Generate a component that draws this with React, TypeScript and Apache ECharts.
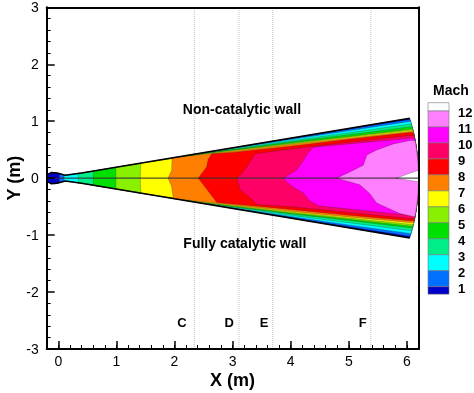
import React, { useEffect, useRef } from 'react';
import * as echarts from 'echarts';

const FONT = '"Liberation Sans", Arial, sans-serif';

// Mach contour levels and band colours (index 0: M<1 ... index 12: M>12)
const machLevels = [1, 2, 3, 4, 5, 6, 7, 8, 9, 10, 11, 12];
const bandColors = ['#0000c8', '#0070ff', '#00ffff', '#00ee88', '#00e000', '#88f000', '#ffff00', '#ff8000', '#ff0000', '#ff0066', '#ff00ff', '#ff80ff', '#ffffff'];

// body outline: wall half-height vs x, blunt end arc apex
const wallX = [-0.25, -0.12, -0.02, 0.12, 0.4, 6.05];
const wallH = [0.03, 0.1, 0.09, 0.05, 0.09, 1.05];
const arcApexX = 6.2;

// iso-Mach fronts in the core: [x, fraction of local half-height]
const frontsUpper = [
  [[0.02, 0], [0.02, 1]],
  [[0.1, 0], [0.1, 1]],
  [[0.34, 0], [0.35, 1]],
  [[0.6, 0], [0.61, 1]],
  [[0.99, 0], [0.99, 1]],
  [[1.41, 0], [1.42, 1]],
  [[1.89, 0], [1.95, 0.38], [1.96, 1]],
  [[2.41, 0], [2.47, 0.19], [2.55, 0.42], [2.58, 0.71], [2.64, 0.91]],
  [[3.07, 0], [3.18, 0.19], [3.3, 0.49], [3.39, 0.72]],
  [[3.87, 0], [4.1, 0.19], [4.22, 0.42], [4.28, 0.56], [4.39, 0.71]],
  [[4.79, 0], [5.02, 0.125], [5.25, 0.25], [5.31, 0.44], [5.48, 0.52], [5.77, 0.6], [6.05, 0.63]],
  [[5.82, 0], [6.0, 0.065], [6.19, 0.13]],
];
const frontsLower = [
  [[0.02, 0], [0.02, 1]],
  [[0.1, 0], [0.1, 1]],
  [[0.34, 0], [0.35, 1]],
  [[0.6, 0], [0.61, 1]],
  [[0.99, 0], [0.99, 1]],
  [[1.41, 0], [1.42, 1]],
  [[1.89, 0], [1.95, 0.41], [1.98, 1]],
  [[2.41, 0], [2.52, 0.33], [2.64, 0.66], [2.73, 0.88]],
  [[3.07, 0], [3.13, 0.37], [3.3, 0.59], [3.41, 0.77]],
  [[3.87, 0], [4.02, 0.2], [4.22, 0.36], [4.33, 0.53], [4.5, 0.63]],
  [[4.79, 0], [5.19, 0.13], [5.36, 0.29], [5.48, 0.46], [5.88, 0.61], [6.11, 0.64]],
  [[5.82, 0], [6.0, 0.03], [6.2, 0.06]],
];

// boundary-layer iso-Mach lines: [x, distance from wall]
const blUpper = [
  [[0.02, 0], [3, 0.005], [4, 0.008], [5, 0.012], [6.05, 0.018]],
  [[0.1, 0], [3, 0.01], [4, 0.025], [5, 0.04], [6.05, 0.055]],
  [[0.35, 0], [2.5, 0.01], [3, 0.02], [4, 0.045], [5, 0.075], [6.05, 0.1]],
  [[0.61, 0], [2.5, 0.015], [3, 0.03], [4, 0.065], [5, 0.11], [6.05, 0.15]],
  [[0.99, 0], [2.5, 0.02], [3, 0.04], [4, 0.085], [5, 0.14], [6.05, 0.19]],
  [[1.42, 0], [2.5, 0.025], [3, 0.05], [4, 0.1], [5, 0.155], [6.05, 0.21]],
  [[1.96, 0], [2.5, 0.03], [3, 0.06], [4, 0.11], [5, 0.17], [6.05, 0.23]],
  [[2.64, 0.043], [3, 0.08], [4, 0.14], [5, 0.19], [6.05, 0.25]],
  [[3.39, 0.17], [4, 0.19], [5, 0.24], [6.05, 0.3]],
  [[4.39, 0.227], [5, 0.27], [6.05, 0.35]],
  [],
  [],
];
const blLower = [
  [[0.02, 0], [3, 0.005], [4, 0.01], [5, 0.02], [6.05, 0.03]],
  [[0.1, 0], [3, 0.01], [4, 0.03], [5, 0.05], [6.05, 0.08]],
  [[0.35, 0], [2.5, 0.01], [3, 0.02], [4, 0.05], [5, 0.09], [6.05, 0.13]],
  [[0.61, 0], [2.5, 0.015], [3, 0.03], [4, 0.075], [5, 0.13], [6.05, 0.18]],
  [[0.99, 0], [2.5, 0.02], [3, 0.04], [4, 0.09], [5, 0.15], [6.05, 0.21]],
  [[1.42, 0], [2.5, 0.025], [3, 0.05], [4, 0.105], [5, 0.17], [6.05, 0.24]],
  [[1.98, 0], [2.5, 0.03], [3, 0.06], [4, 0.12], [5, 0.19], [6.05, 0.27]],
  [[2.73, 0.06], [3, 0.08], [4, 0.15], [5, 0.22], [6.05, 0.3]],
  [[3.41, 0.14], [4, 0.2], [5, 0.27], [6.05, 0.34]],
  [[4.5, 0.3], [5, 0.33], [6.05, 0.4]],
  [],
  [],
];

// measurement stations
const stationX = [2.34, 3.11, 3.69, 5.38];
const stationNames = ['C', 'D', 'E', 'F'];
const stationLabelX = [2.13, 2.94, 3.54, 5.24];
const stationLabelY = -2.54;

const wallLabels = ['Non-catalytic wall', 'Fully catalytic wall'];
const wallLabelX = [3.16, 3.21];
const wallLabelY = [1.21, -1.14];

function hAt(x: number): number {
  if (x <= wallX[0]) return wallH[0];
  const n = wallX.length;
  if (x >= wallX[n - 1]) return wallH[n - 1];
  for (let i = 1; i < n; i++) {
    if (x <= wallX[i]) {
      const t = (x - wallX[i - 1]) / (wallX[i] - wallX[i - 1]);
      return wallH[i - 1] + t * (wallH[i] - wallH[i - 1]);
    }
  }
  return wallH[n - 1];
}
const xe = wallX[wallX.length - 1];
const he = wallH[wallH.length - 1];
const arcC = (arcApexX * arcApexX - xe * xe - he * he) / (2 * (arcApexX - xe));
const arcR = arcApexX - arcC;
function xArc(y: number) {
  return arcC + Math.sqrt(Math.max(0, arcR * arcR - y * y));
}

function levelPolygon(front: number[][], bl: number[][], s: number) {
  const pts: number[][] = [];
  front.forEach(([x, eta]) => pts.push([x, s * eta * hAt(x)]));
  for (let i = 0; i < bl.length; i++) {
    const [x, d] = bl[i];
    if (i > 0) {
      const [xp, dp] = bl[i - 1];
      wallX.forEach((wx) => {
        if (wx > xp && wx < x) {
          const t = (wx - xp) / (x - xp);
          pts.push([wx, s * (hAt(wx) - (dp + t * (d - dp)))]);
        }
      });
    }
    pts.push([x, s * (hAt(x) - d)]);
  }
  const yEnd = Math.abs(pts[pts.length - 1][1]);
  const N = 16;
  for (let i = 0; i <= N; i++) {
    const y = yEnd * (1 - i / N);
    pts.push([xArc(y), s * y]);
  }
  return pts;
}

function buildShapes() {
  const shapes: any[] = [];
  const body: number[][] = [];
  wallX.forEach((x, i) => body.push([x, wallH[i]]));
  const N = 40;
  for (let i = 1; i < N; i++) {
    const y = he * (1 - (2 * i) / N);
    body.push([xArc(y), y]);
  }
  for (let i = wallX.length - 1; i >= 0; i--) body.push([wallX[i], -wallH[i]]);
  shapes.push({ kind: 'polygon', pts: body, fill: bandColors[0] });
  for (let k = 0; k < machLevels.length; k++) {
    shapes.push({ kind: 'polygon', pts: levelPolygon(frontsUpper[k], blUpper[k], 1), fill: bandColors[k + 1] });
    shapes.push({ kind: 'polygon', pts: levelPolygon(frontsLower[k], blLower[k], -1), fill: bandColors[k + 1] });
  }
  shapes.push({ kind: 'line', pts: [[wallX[0], 0], [arcApexX, 0]], stroke: '#333', lw: 0.8 });
  shapes.push({ kind: 'line', pts: wallX.map((x, i) => [x, wallH[i]]), stroke: '#000', lw: 1.5 });
  shapes.push({ kind: 'line', pts: wallX.map((x, i) => [x, -wallH[i]]), stroke: '#000', lw: 1.5 });
  return shapes;
}

export default function App() {
  const ref = useRef<HTMLDivElement>(null);
  useEffect(() => {
    if (!ref.current) return;
    const chart = echarts.init(ref.current, null, { renderer: 'svg' });
    const shapes = buildShapes();

    const gridLeft = 46.7, gridTop = 7.3, gridRight = 418.5, gridBottom = 349;

    const legendBoxX = 428, legendBoxW = 21, firstB = 111, step = 15.97;
    const graphic: any[] = [];
    graphic.push({ type: 'text', x: 433, y: 90, style: { text: 'Mach', font: `bold 14px ${FONT}`, fill: '#000', verticalAlign: 'middle', align: 'left' } });
    for (let k = 12; k >= 0; k--) {
      let y0: number, y1: number;
      if (k === 12) { y0 = firstB - 8.3; y1 = firstB; }
      else if (k === 0) { y0 = firstB + 11 * step; y1 = y0 + 7.5; }
      else { y0 = firstB + (11 - k) * step; y1 = y0 + step; }
      graphic.push({ type: 'rect', shape: { x: legendBoxX, y: y0, width: legendBoxW, height: y1 - y0 }, style: { fill: bandColors[k], stroke: '#777', lineWidth: 0.6 } });
    }
    machLevels.forEach((lv, idx) => {
      const i = 11 - idx;
      graphic.push({ type: 'text', x: 458, y: firstB + i * step + 1.5, style: { text: String(lv), font: `bold 13px ${FONT}`, fill: '#000', verticalAlign: 'middle', align: 'left' } });
    });

    const annText = [...wallLabels, ...stationNames];
    const annX = [...wallLabelX, ...stationLabelX];
    const annY = [...wallLabelY, ...stationNames.map(() => stationLabelY)];
    const annSize = [14, 14, 13, 13, 13, 13];

    const option: any = {
      animation: false,
      grid: { left: gridLeft, top: gridTop, width: gridRight - gridLeft, height: gridBottom - gridTop, containLabel: false, outerBoundsMode: 'none' },
      xAxis: [
        {
          type: 'value', min: -0.2, max: 6.2, splitNumber: 6, position: 'bottom', z: 10,
          axisLine: { show: true, onZero: false, lineStyle: { color: '#000', width: 2 } },
          axisTick: { show: true, inside: true, length: 8, lineStyle: { color: '#000', width: 1.5 } },
          axisLabel: { color: '#000', fontSize: 14, fontFamily: FONT, margin: 5, showMinLabel: false, showMaxLabel: false,
            formatter: (v: number) => (Math.abs(v - Math.round(v)) < 1e-6 ? String(Math.round(v) === 0 ? 0 : Math.round(v)) : '') },
          splitLine: { show: false },
          name: 'X (m)', nameLocation: 'middle', nameGap: 22, nameMoveOverlap: false,
          nameTextStyle: { fontSize: 18, fontWeight: 'bold', color: '#000', fontFamily: FONT },
        },
        {
          type: 'value', min: -0.2, max: 6.2, interval: 0.2, position: 'bottom', z: 10,
          axisLine: { show: false, onZero: false }, axisTick: { show: true, inside: true, length: 4, lineStyle: { color: '#000', width: 1 } },
          axisLabel: { show: false }, splitLine: { show: false },
        },
        {
          type: 'value', min: -0.2, max: 6.2, position: 'top', z: 10,
          axisLine: { show: true, onZero: false, lineStyle: { color: '#000', width: 2 } }, axisTick: { show: false },
          axisLabel: { show: false }, splitLine: { show: false },
        },
      ],
      yAxis: [
        {
          type: 'value', min: -3, max: 3, interval: 1, position: 'left', z: 10,
          axisLine: { show: true, onZero: false, lineStyle: { color: '#000', width: 2 } },
          axisTick: { show: true, inside: true, length: 8, lineStyle: { color: '#000', width: 1.5 } },
          minorTick: { show: true, splitNumber: 5, length: 4, lineStyle: { color: '#000', width: 1 } },
          axisLabel: { color: '#000', fontSize: 14, fontFamily: FONT, margin: 8 },
          splitLine: { show: false },
          name: 'Y (m)', nameLocation: 'middle', nameGap: 24, nameMoveOverlap: false,
          nameTextStyle: { fontSize: 18, fontWeight: 'bold', color: '#000', fontFamily: FONT },
        },
        {
          type: 'value', min: -3, max: 3, position: 'right', z: 10,
          axisLine: { show: true, onZero: false, lineStyle: { color: '#000', width: 2 } }, axisTick: { show: false },
          axisLabel: { show: false }, splitLine: { show: false },
        },
      ],
      graphic,
      series: [
        ...stationX.map((x) => ({
          type: 'line', xAxisIndex: 0, yAxisIndex: 0, z: 1, silent: true, symbol: 'none',
          data: [[x, -3], [x, 3]],
          lineStyle: { color: '#c0c0c0', width: 1, type: 'dotted' },
        })),
        {
          type: 'custom', xAxisIndex: 0, yAxisIndex: 0, z: 2, clip: true, silent: true,
          encode: { x: 0, y: 1 },
          data: shapes.map((s, i) => [s.pts[0][0], s.pts[0][1], i]),
          renderItem: (params: any, api: any) => {
            const s = shapes[params.dataIndex];
            const points = s.pts.map((p: number[]) => api.coord(p));
            if (s.kind === 'polygon') {
              return { type: 'polygon', shape: { points }, style: { fill: s.fill, stroke: 'rgba(40,40,40,0.55)', lineWidth: 0.5 } };
            }
            return { type: 'polyline', shape: { points }, style: { fill: 'none', stroke: s.stroke, lineWidth: s.lw } };
          },
        },
        {
          type: 'custom', xAxisIndex: 0, yAxisIndex: 0, z: 3, silent: true,
          encode: { x: 0, y: 1 },
          data: annX.map((x, i) => [x, annY[i], i]),
          renderItem: (params: any, api: any) => {
            const i = params.dataIndex;
            const p = api.coord([annX[i], annY[i]]);
            return { type: 'text', x: p[0], y: p[1], style: { text: annText[i], font: `bold ${annSize[i]}px ${FONT}`, fill: '#000', align: 'center', verticalAlign: 'middle' } };
          },
        },
      ],
    };
    chart.setOption(option);
    return () => chart.dispose();
  }, []);
  return <div ref={ref} style={{ position: 'fixed', left: 0, top: 0, width: 474, height: 393 }} />;
}
